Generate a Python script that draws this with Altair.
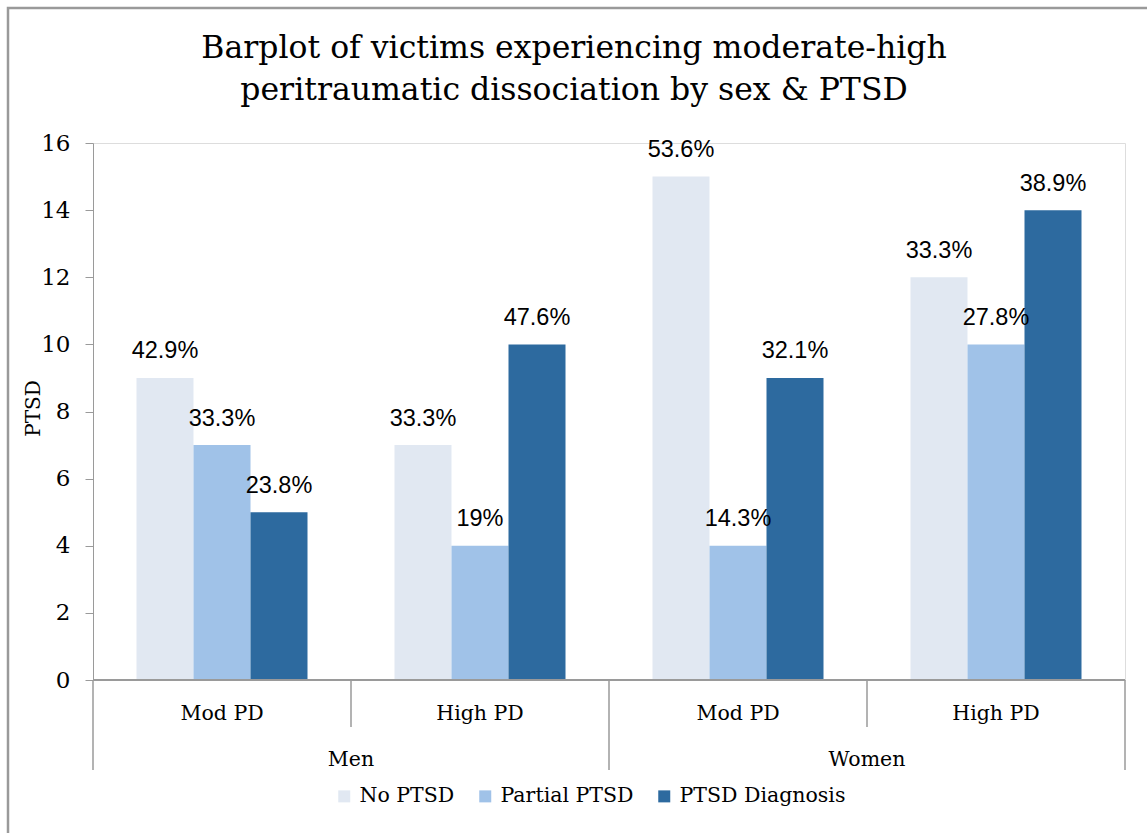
import altair as alt
import pandas as pd

# ---- data ----
sexes = ["Men", "Men", "Women", "Women"]
pd_levels = ["Mod PD", "High PD", "Mod PD", "High PD"]
series = ["No PTSD", "Partial PTSD", "PTSD Diagnosis"]
no_ptsd = [9, 7, 15, 12]
partial_ptsd = [7, 4, 4, 10]
ptsd_diag = [5, 10, 9, 14]
no_ptsd_pct = ["42.9%", "33.3%", "53.6%", "33.3%"]
partial_ptsd_pct = ["33.3%", "19%", "14.3%", "27.8%"]
ptsd_diag_pct = ["23.8%", "47.6%", "32.1%", "38.9%"]
colors = ["#E1E8F2", "#A0C2E8", "#2D6A9F"]
y_ticks = [0, 2, 4, 6, 8, 10, 12, 14, 16]
title_lines = ["Barplot of victims experiencing moderate-high",
               "peritraumatic dissociation by sex & PTSD"]

keys = [f"{s} {p}" for s, p in zip(sexes, pd_levels)]
rows = []
for name, vals, pcts in [(series[0], no_ptsd, no_ptsd_pct),
                         (series[1], partial_ptsd, partial_ptsd_pct),
                         (series[2], ptsd_diag, ptsd_diag_pct)]:
    for k, v, p in zip(keys, vals, pcts):
        rows.append({"key": k, "series": name, "value": v, "pct": p})
df = pd.DataFrame(rows)
groups = pd.DataFrame({"key": keys, "sex": sexes, "pd": pd_levels})

SERIF = "DejaVu Serif"
SANS = "Liberation Sans"
W, H = 1032, 537
GRAY = "#9a9a9a"

xscale = alt.Scale(domain=keys, paddingInner=0, paddingOuter=0)
X = alt.X("key:N", scale=xscale, axis=None)
Y = alt.Y("value:Q", scale=alt.Scale(domain=[0, 16], nice=False),
          axis=alt.Axis(values=y_ticks, grid=False, domainColor=GRAY, tickColor=GRAY,
                        tickSize=8, labelFont=SERIF, labelFontSize=23, labelColor="black",
                        labelPadding=15, title="PTSD", titleFont=SERIF, titleFontSize=20,
                        titleFontWeight="normal", titleColor="black", titleAngle=270,
                        titleBaseline="alphabetic", titleX=-54, titleY=265, titleAlign="center"))
XO = alt.XOffset("series:N", scale=alt.Scale(domain=series, paddingInner=0, paddingOuter=0.763))

bars = alt.Chart(df).mark_bar().encode(
    x=X, xOffset=XO, y=Y,
    color=alt.Color("series:N", scale=alt.Scale(domain=series, range=colors),
                    legend=alt.Legend(title=None, orient="none", direction="horizontal",
                                      legendX=241, legendY=643, symbolType="square",
                                      symbolSize=144, symbolStrokeWidth=0, labelFont=SERIF,
                                      labelFontSize=20.5, labelColor="black", labelOffset=5,
                                      columnPadding=20, labelLimit=400)),
)

labels = alt.Chart(df).mark_text(font=SANS, fontSize=23.5, baseline="alphabetic", dy=-19.5,
                                 color="black").encode(
    x=X, xOffset=XO, y=alt.Y("value:Q"), text="pct:N")

x_line = alt.Chart(groups).mark_rule(color=GRAY, strokeWidth=1.5).encode(
    x=alt.value(0), x2=alt.value(W), y=alt.datum(0))

short_sep = alt.Chart(groups[groups["pd"] == "High PD"]).mark_rule(color=GRAY, strokeWidth=1.5).encode(
    x=alt.X("key:N", scale=xscale, axis=None, bandPosition=0),
    y=alt.value(H), y2=alt.value(H + 47))
long_sep = alt.Chart(groups[groups["pd"] == "Mod PD"]).mark_rule(color=GRAY, strokeWidth=1.5).encode(
    x=alt.X("key:N", scale=xscale, axis=None, bandPosition=0),
    y=alt.value(H), y2=alt.value(H + 90))
end_sep = alt.Chart(groups.tail(1)).mark_rule(color=GRAY, strokeWidth=1.5).encode(
    x=alt.X("key:N", scale=xscale, axis=None, bandPosition=1),
    y=alt.value(H), y2=alt.value(H + 90))

pd_text = alt.Chart(groups).mark_text(font=SERIF, fontSize=20.5, baseline="alphabetic",
                                      color="black").encode(
    x=X, y=alt.value(H + 40), text="pd:N")
sex_text = alt.Chart(groups[groups["pd"] == "High PD"]).mark_text(
    font=SERIF, fontSize=20.5, baseline="alphabetic", color="black").encode(
    x=alt.X("key:N", scale=xscale, axis=None, bandPosition=0), y=alt.value(H + 86), text="sex:N")

title1 = alt.Chart(groups.head(1)).mark_text(font=SERIF, fontSize=31.5, baseline="alphabetic",
                                             color="black", text=title_lines[0]).encode(
    x=alt.value(574 - 93), y=alt.value(58 - 143))
title2 = alt.Chart(groups.head(1)).mark_text(font=SERIF, fontSize=31.5, baseline="alphabetic",
                                             color="black", text=title_lines[1]).encode(
    x=alt.value(574 - 93), y=alt.value(100 - 143))

border = alt.Chart(groups.head(1)).mark_rect(fill=None, stroke=GRAY, strokeWidth=2.5).encode(
    x=alt.value(8 - 93), y=alt.value(8 - 143), x2=alt.value(1160 - 93), y2=alt.value(850 - 143))

chart = alt.layer(border, bars, labels, x_line, short_sep, long_sep, end_sep, pd_text,
                  sex_text, title1, title2).properties(
    width=W, height=H,
    autosize=alt.AutoSizeParams(type="none"),
    padding={"left": 93, "top": 143, "right": 22, "bottom": 153},
).configure_view(stroke=None).configure(background="white")

chart.save("out.html", embed_options={"renderer": "svg", "actions": False})
